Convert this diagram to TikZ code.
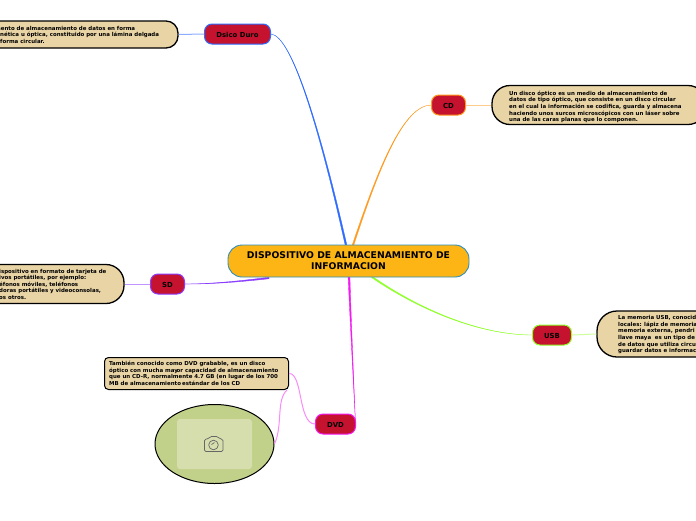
\documentclass[tikz,border=0pt]{standalone}
\usetikzlibrary{shapes.geometric}
\usepackage{fontspec}
\setmainfont{DejaVu Sans}
\definecolor{crimson}{HTML}{C4122F}
\definecolor{sand}{HTML}{E8D4A5}
\definecolor{gold}{HTML}{FDB515}
\definecolor{mainedge}{HTML}{2A8FC0}
\definecolor{cblue}{HTML}{2F6BFF}
\definecolor{corange}{HTML}{FF9A1F}
\definecolor{cpurple}{HTML}{8A3CFF}
\definecolor{cgreen}{HTML}{90FF2A}
\definecolor{cmag}{HTML}{F21CF2}
\definecolor{olive}{HTML}{C2D18A}
\definecolor{olivel}{HTML}{D6DEAE}
\tikzset{
  x=1pt,y=-1pt,
  topic/.style={draw=#1,line width=1pt,fill=crimson,rounded corners=7.5pt,inner sep=0pt,
    text height=6pt,text depth=0pt,
    font=\fontsize{6.9}{8}\selectfont\bfseries,text=black},
  bubble/.style={draw=black,line width=1.3pt,fill=sand,inner sep=0pt},
  txt/.style={inner sep=0pt,anchor=north west,align=left,text=black,
    font=\fontsize{5.45}{6.6}\selectfont\bfseries},
  conn/.style={draw=#1,fill=#1,line width=0.35pt,line join=round},
  thin conn/.style={draw=#1,line width=1pt},
}
% tapered branch: colour, wide end, half width x, half width y, narrow end, control near wide end, control near narrow end
\newcommand{\taperline}[7]{%
  \path[conn=#1] ([shift={(-#3,-#4)}]#2) .. controls ([shift={(-0.6*#3,-0.6*#4)}]#6) and ([shift={(-0.15*#3,-0.15*#4)}]#7) .. (#5)
    .. controls ([shift={(0.15*#3,0.15*#4)}]#7) and ([shift={(0.6*#3,0.6*#4)}]#6) .. ([shift={(#3,#4)}]#2) -- cycle;}
\begin{document}
\begin{tikzpicture}
\useasboundingbox (0,0) rectangle (696,520);
\clip (0,0) rectangle (696,520);
\fill[white] (0,0) rectangle (696,520);

% connector end points on the central topic
\coordinate (mB) at (346,245);
\coordinate (mO) at (353,245);
\coordinate (mP) at (269,278);
\coordinate (mG) at (372,277);
\coordinate (mM) at (349,277);
\coordinate (dvdR) at (355.5,424);
\coordinate (cB) at (320,130);
\coordinate (dB) at (292,36);
\coordinate (cO) at (378,170);
\coordinate (dO) at (403,105);
\coordinate (cP) at (235,282);
\coordinate (dP) at (210,284);
\coordinate (cG) at (420,310);
\coordinate (dG) at (480,335);
\coordinate (cM) at (351,330);
\coordinate (dM) at (354,390);
\coordinate (dE) at (271,34);
\coordinate (cdW) at (431.5,105);
\coordinate (sdE) at (184.5,284);
\coordinate (usbW) at (532.5,335);

% branches
\taperline{cblue}{mB}{0.85}{0}{dE}{cB}{dB}
\taperline{corange}{mO}{0.75}{0}{cdW}{cO}{dO}
\taperline{cpurple}{mP}{0}{0.75}{sdE}{cP}{dP}
\taperline{cgreen}{mG}{0.5}{-0.5}{usbW}{cG}{dG}
\taperline{cmag}{mM}{0.9}{0}{dvdR}{cM}{dM}

% nodes
\node[draw=mainedge,line width=0.9pt,fill=gold,rounded corners=14pt,minimum width=241pt,minimum height=32pt,
  inner sep=0pt,align=center,font=\fontsize{9.25}{11}\selectfont\bfseries] (main) at (348.5,261)
  {\raisebox{-1.5pt}{DISPOSITIVO DE ALMACENAMIENTO DE}\\\raisebox{-1.5pt}{INFORMACION}};
\node[topic=cblue,minimum width=66pt,minimum height=20pt] (disco) at (237.5,34) {Dsico Duro};
\node[topic=corange,minimum width=34pt,minimum height=20pt] (cd) at (448.5,105) {CD};
\node[topic=cpurple,minimum width=34pt,minimum height=20pt] (sd) at (167.5,284) {SD};
\node[topic=cgreen,minimum width=39pt,minimum height=20pt] (usb) at (552,335) {USB};
\node[topic=cmag,minimum width=40pt,minimum height=20pt] (dvd) at (335.5,424) {DVD};

\node[bubble,rounded corners=12pt,minimum width=208pt,minimum height=27pt] (bdisco) at (74,34.5) {};
\node[bubble,rounded corners=18pt,minimum width=214pt,minimum height=39pt] (bcd) at (599,105) {};
\node[bubble,rounded corners=18pt,minimum width=184pt,minimum height=39pt] (bsd) at (32,284) {};
\node[bubble,rounded corners=20pt,minimum width=160pt,minimum height=46pt] (busb) at (677,334) {};
\node[bubble,rounded corners=4pt,line width=1pt,minimum width=184pt,minimum height=32pt] (bdvd) at (196.5,373.5) {};
\node[draw=black,line width=1pt,fill=olive,ellipse,minimum width=119pt,minimum height=79pt,inner sep=0pt] (pic) at (214.5,444) {};
\node[fill=olivel,rounded corners=3pt,minimum width=75pt,minimum height=50pt,inner sep=0pt] (frame) at (214.5,444) {};

% light connectors
\draw[thin conn=cblue!55] (bdisco.east) -- (disco.west);
\draw[thin conn=corange!50] (cd.east) -- (bcd.west);
\draw[thin conn=cpurple!55] (bsd.east) -- (sd.west);
\draw[thin conn=cgreen!45] (usb.east) -- (busb.west);
\draw[thin conn=cmag!50] (bdvd.east) .. controls (303,373) and (298,424) .. (dvd.west);
\coordinate (bdvdS) at (287,390);
\draw[thin conn=cmag!50] (pic.east) .. controls (283,425) and (276,400) .. (bdvdS);

% texts
\node[txt] (tdisco) at (-5,25.8) {mento de almacenamiento de datos en forma};
\node[txt] (tdisco2) at (0,32.4) {nética u óptica, constituido por una lámina delgada\\forma circular.};
\node[txt] (tcd) at (509,90.7) {Un disco óptico es un medio de almacenamiento de\\datos de tipo óptico, que consiste en un disco circular\\en el cual la información se codifica, guarda y almacena\\haciendo unos surcos microscópicos con un láser sobre\\una de las caras planas que lo componen.};
\node[txt] (tsd) at (-1,268.7) {ispositivo en formato de tarjeta de\\ivos portátiles, por ejemplo:\\éfonos móviles, teléfonos\\doras portátiles y videoconsolas,\\os otros.};
\node[txt] (tusb) at (618,315.4) {La memoria USB, conocid\\locales: lápiz de memoria\\memoria externa, pendri\\llave maya\ \ es un tipo de\\de datos que utiliza circu\\guardar datos e informac};
\node[txt] (tdvd) at (109,361) {También conocido como DVD grabable, es un disco\\óptico con mucha may\\que un CD-R, normalmente 4.7 GB (en lugar de los 700\\MB de almacenamiento};
\node[txt] (tdvdb) at (176.5,368.2) {or capacidad de almacenamiento};
\node[txt] (tdvdc) at (182,381.2) {estándar de los CD};

% camera icon
\begin{scope}[draw=black!60,line width=0.7pt]
\draw[rounded corners=1.5pt] (204.5,439) -- (208.5,439) -- (210,436.5) -- (218,436.5) -- (219.5,439) -- (223,439) -- (223,451.5) -- (204.5,451.5) -- cycle;
\draw (213.5,445) circle (4.8pt);
\draw (211.5,444.5) -- (214.5,442.5);
\end{scope}
\end{tikzpicture}
\end{document}
